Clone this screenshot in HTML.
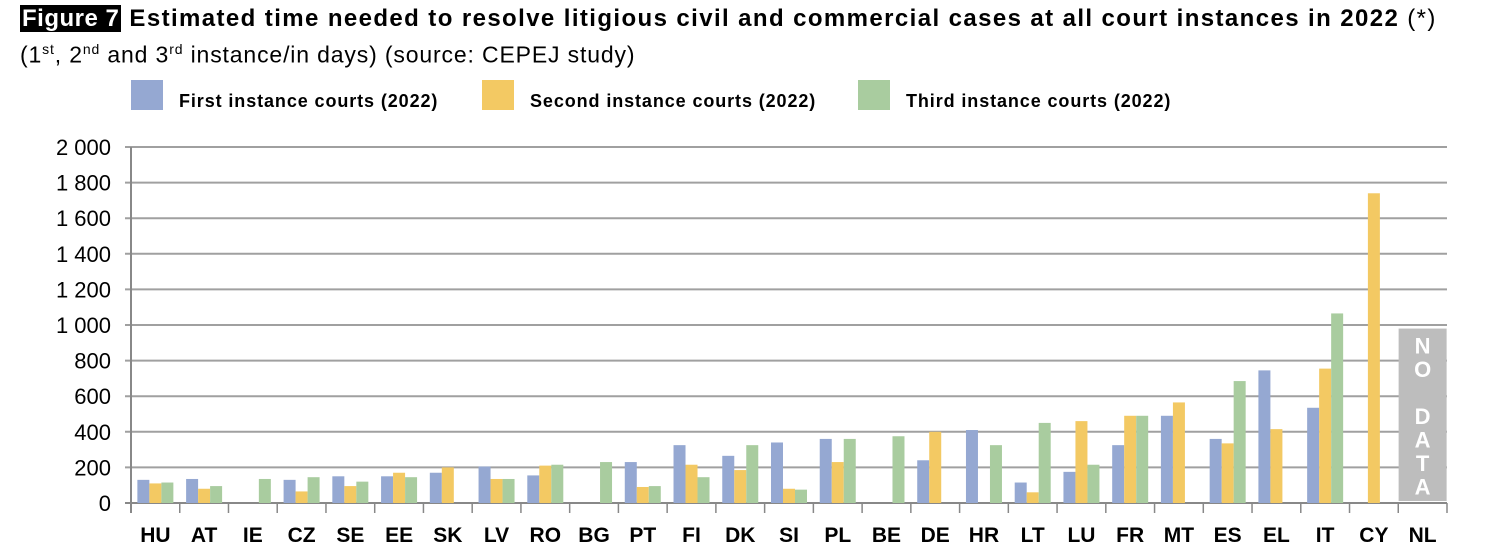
<!DOCTYPE html>
<html><head><meta charset="utf-8"><style>
body{margin:0;width:1511px;height:550px;background:#fff;overflow:hidden;font-family:"Liberation Sans",sans-serif;}
#title{position:absolute;left:20px;top:5px;font-size:24px;font-weight:bold;color:#000;white-space:nowrap;letter-spacing:1.4px}
#title .fig{background:#000;color:#fff;padding:0 2px;letter-spacing:0.5px}
#title .ast{font-weight:normal}
#sub{position:absolute;left:20px;top:41px;font-size:23px;color:#000;white-space:nowrap;letter-spacing:0.85px}
sup{font-size:14px}
</style></head><body>
<div id="title"><span class="fig">Figure 7</span> Estimated time needed to resolve litigious civil and commercial cases at all court instances in 2022 <span class="ast">(*)</span></div>
<div id="sub">(1<sup>st</sup>, 2<sup>nd</sup> and 3<sup>rd</sup> instance/in days) (source: CEPEJ study)</div>
<svg id="chart" width="1511" height="550" style="position:absolute;left:0;top:0"></svg>
<script>
const categories=["HU","AT","IE","CZ","SE","EE","SK","LV","RO","BG","PT","FI","DK","SI","PL","BE","DE","HR","LT","LU","FR","MT","ES","EL","IT","CY","NL"];
const first=[130,135,null,130,150,150,170,205,155,null,230,325,265,340,360,null,240,410,115,175,325,490,360,745,535,null,null];
const second=[110,80,null,65,95,170,200,135,210,null,90,215,185,80,230,null,400,null,60,460,490,565,335,415,755,1740,null];
const third=[115,95,135,145,120,145,null,135,215,230,95,145,325,75,360,375,null,325,450,215,490,null,685,null,1065,null,null];
const yTicks=[0,200,400,600,800,1000,1200,1400,1600,1800,2000];
const seriesNames=["First instance courts (2022)","Second instance courts (2022)","Third instance courts (2022)"];
const colors=["#95a8d2","#f3c963","#a9cc9f"];
const noDataCat="NL", noDataValue=980;

const svg=document.getElementById('chart');const NS="http://www.w3.org/2000/svg";
const X0=131,X1=1447,Y0=503,Y1=147,YMAX=2000;
const bw=(X1-X0)/categories.length, barW=12;
const y=v=>Y0-(v/YMAX)*(Y0-Y1);
const xc=i=>X0+bw*(i+0.5);
function mk(t,a){const e=document.createElementNS(NS,t);for(const k in a)e.setAttribute(k,a[k]);svg.appendChild(e);return e;}
yTicks.forEach(v=>{
 const l=mk('line',{x1:X0-6,x2:X1,y1:y(v),y2:y(v),stroke:v===0?'#888':'#a0a0a0','stroke-width':2});
 
 
 const t=mk('text',{x:111,y:y(v)+8,'text-anchor':'end','font-size':22,fill:'#000','font-family':'Liberation Sans, sans-serif'});
 t.textContent=v>=1000?Math.floor(v/1000)+' '+String(v%1000).padStart(3,'0'):String(v);
 
 
});
const ax=mk('line',{x1:X0,x2:X0,y1:Y1,y2:Y0+10,stroke:'#888','stroke-width':2});


categories.forEach((c,i)=>{
 const tk=mk('line',{x1:X0+bw*(i+1),x2:X0+bw*(i+1),y1:Y0,y2:Y0+10,stroke:'#888','stroke-width':1.5});
 
 
 const t=mk('text',{x:xc(i),y:542,'text-anchor':'middle','font-size':21,'font-weight':'bold',fill:'#000','font-family':'Liberation Sans, sans-serif'});
 t.textContent=c;
 
 
 [first,second,third].forEach((s,k)=>{
  const v=s[i]; if(v==null) return;
  const r=mk('rect',{x:xc(i)-1.5*barW+k*barW,y:y(v),width:barW,height:Y0-y(v),fill:colors[k]});
  
  
 });
 if(c===noDataCat){
  const r=mk('rect',{x:xc(i)-24,y:y(noDataValue),width:48,height:Y0-y(noDataValue)-2,fill:'#bdbdbd'});
  
  
  "NO DATA".split('').forEach((ch,j)=>{
   if(ch===' ')return;
   const t=mk('text',{x:xc(i),y:y(noDataValue)+25+j*23.5,'text-anchor':'middle','font-size':22,'font-weight':'bold',fill:'#fff','font-family':'Liberation Sans, sans-serif'});
   t.textContent=ch;
   
   
  });
 }
});
const lx=[131,482,858];
seriesNames.forEach((n,k)=>{
 const r=mk('rect',{x:lx[k],y:80,width:32,height:30,fill:colors[k]});
 
 
 const t=mk('text',{x:lx[k]+48,y:107,'font-size':18,'font-weight':'bold','letter-spacing':'0.9',fill:'#000','font-family':'Liberation Sans, sans-serif'});
 t.textContent=n;
 
 
});
</script>
</body></html>
